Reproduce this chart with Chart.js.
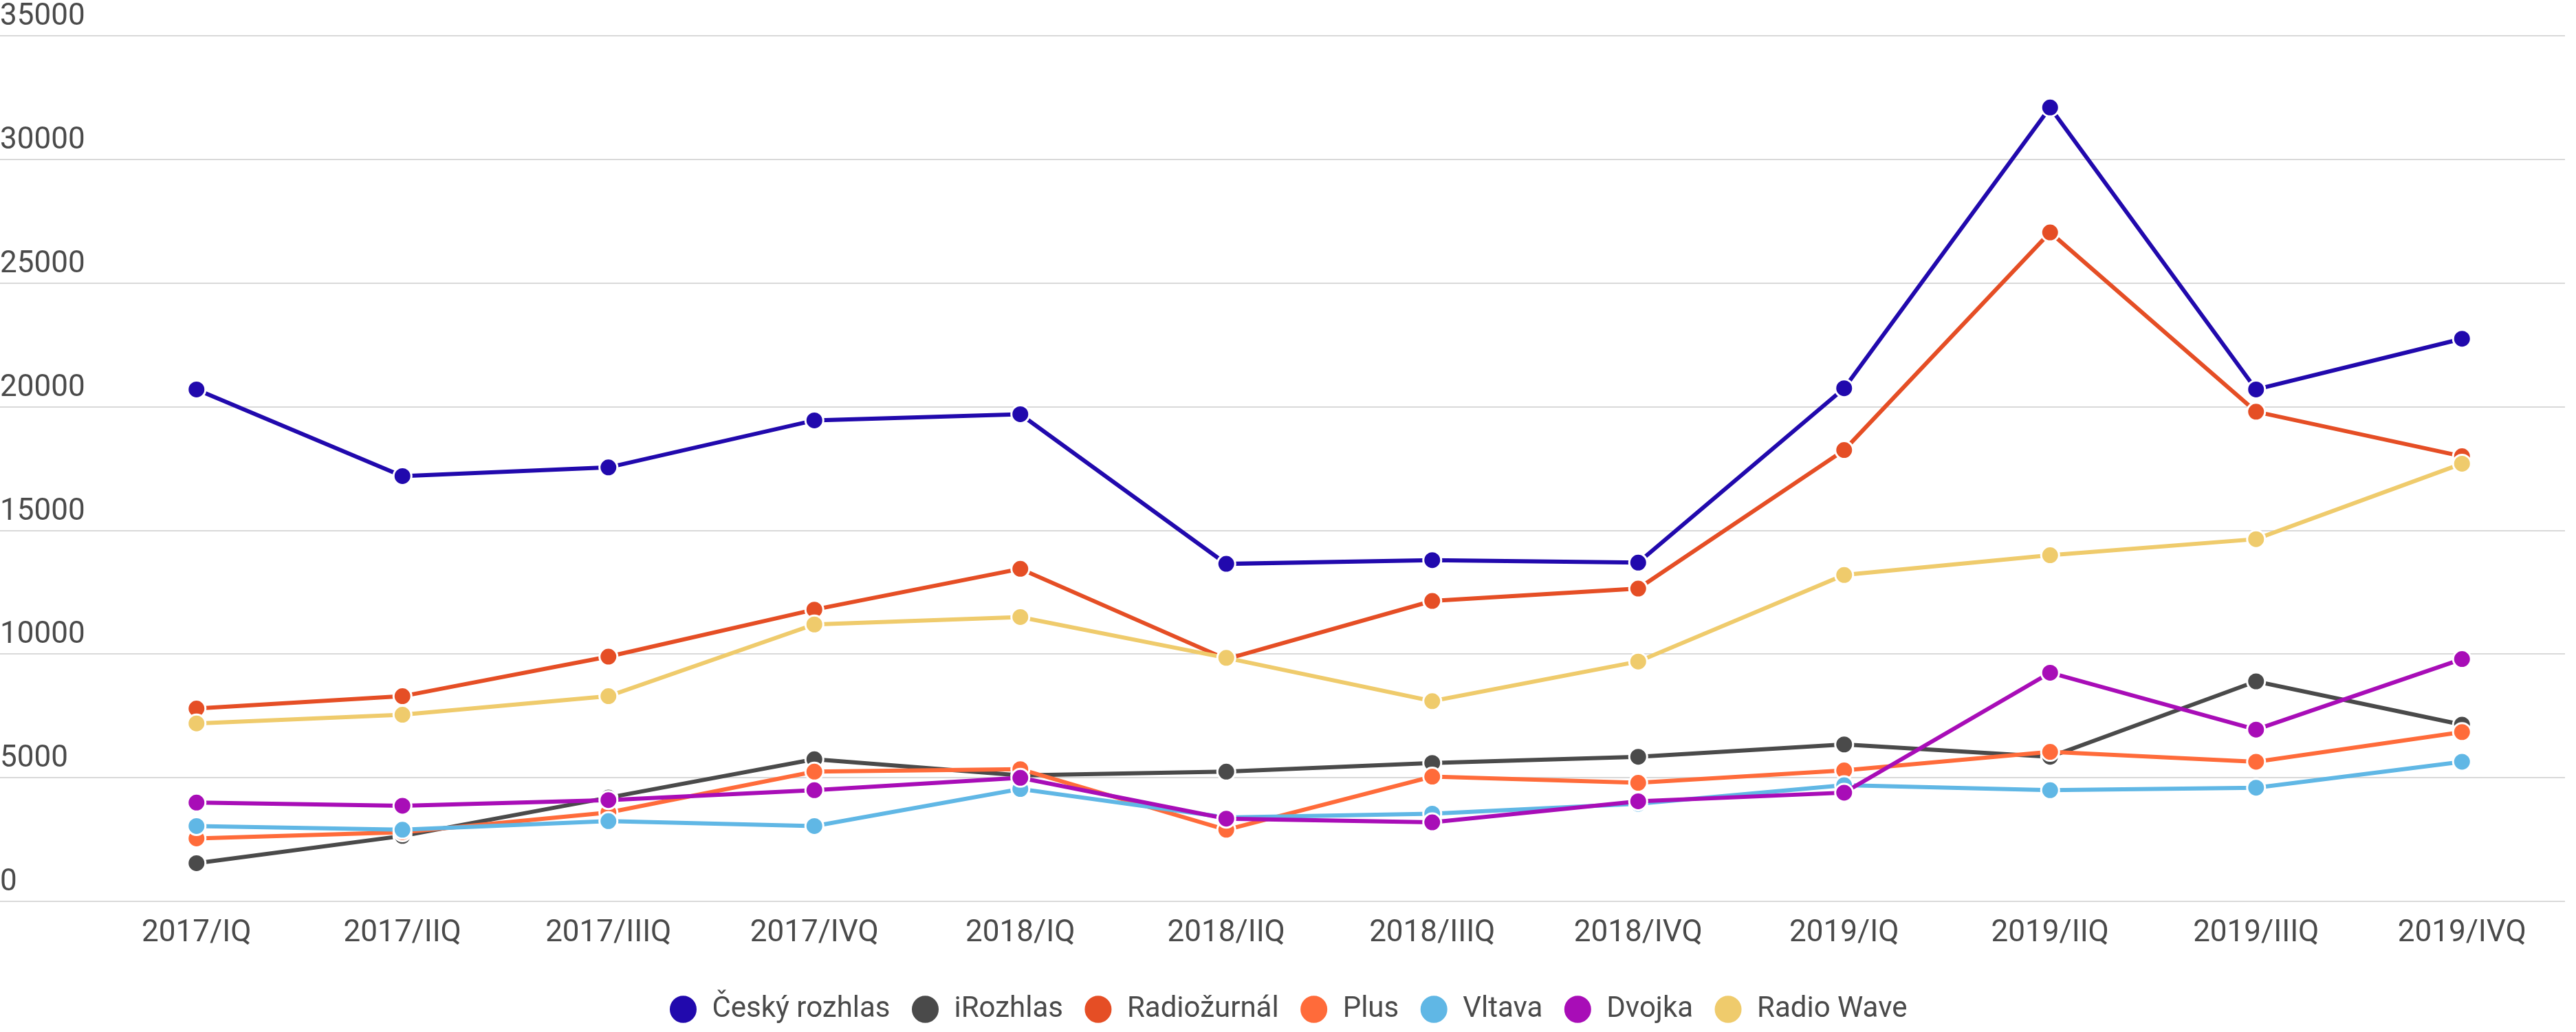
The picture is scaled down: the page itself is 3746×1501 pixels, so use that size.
<!DOCTYPE html>
<html>
<head>
<meta charset="utf-8">
<script src="https://cdn.jsdelivr.net/npm/chart.js@4/dist/chart.umd.min.js"></script>
<style>
  html, body { margin: 0; padding: 0; background: #fff; }
  #wrap { width: 3746px; height: 1501px; position: relative; }
</style>
</head>
<body>
<div id="wrap"><canvas id="radioChart"></canvas></div>
<script>
const quarters = ['2017/IQ', '2017/IIQ', '2017/IIIQ', '2017/IVQ', '2018/IQ', '2018/IIQ',
                  '2018/IIIQ', '2018/IVQ', '2019/IQ', '2019/IIQ', '2019/IIIQ', '2019/IVQ'];

const ceskyRozhlas = [20700, 17200, 17550, 19450, 19700, 13650, 13800, 13700, 20750, 32100, 20700, 22750];
const iRozhlas     = [1550, 2650, 4200, 5750, 5100, 5250, 5600, 5850, 6350, 5850, 8900, 7150];
const radiozurnal  = [7800, 8300, 9900, 11800, 13450, 9800, 12150, 12650, 18250, 27050, 19800, 18000];
const plus         = [2550, 2800, 3600, 5250, 5350, 2900, 5050, 4800, 5300, 6050, 5650, 6850];
const vltava       = [3050, 2900, 3250, 3050, 4550, 3400, 3550, 3950, 4700, 4500, 4600, 5650];
const dvojka       = [4000, 3870, 4100, 4500, 5000, 3350, 3200, 4050, 4400, 9250, 6950, 9800];
const radioWave    = [7200, 7550, 8300, 11200, 11500, 9850, 8100, 9700, 13200, 14000, 14650, 17700];

const seriesNames = ['Český rozhlas', 'iRozhlas', 'Radiožurnál', 'Plus', 'Vltava', 'Dvojka', 'Radio Wave'];
const seriesData = [ceskyRozhlas, iRozhlas, radiozurnal, plus, vltava, dvojka, radioWave];
const seriesColors = ['#2109AD', '#4A4A4A', '#E54E25', '#FF6B3A', '#60B7E5', '#A80DB7', '#EFCB6C'];

const textColor = '#4a4a4a';
const gridColor = '#d9d9d9';

// later series are drawn on top, like in the original
const datasets = seriesNames.map((name, i) => ({
    label: name,
    data: seriesData[i],
    borderColor: seriesColors[i],
    backgroundColor: seriesColors[i],
    borderWidth: 6,
    pointRadius: 13,
    pointBorderWidth: 3,
    pointBorderColor: '#ffffff',
    pointBackgroundColor: seriesColors[i],
    tension: 0,
    fill: false,
    order: seriesNames.length - i
}));

new Chart(document.getElementById('radioChart'), {
    type: 'line',
    data: {
        labels: quarters,
        datasets: datasets
    },
    options: {
        responsive: true,
        maintainAspectRatio: false,
        animation: false,
        layout: {
            padding: { top: 52, right: 0, bottom: 2, left: 0 }
        },
        scales: {
            x: {
                offset: true,
                grid: { display: false, drawTicks: false },
                border: { display: false },
                afterFit: scale => { scale.height += 13; },
                ticks: {
                    color: textColor,
                    padding: 20,
                    maxRotation: 0,
                    autoSkip: false,
                    font: { family: 'Roboto', size: 44 }
                }
            },
            y: {
                min: 0,
                max: 35000,
                border: { display: false },
                grid: {
                    color: gridColor,
                    lineWidth: 2,
                    drawTicks: true,
                    tickLength: 136
                },
                afterFit: scale => { scale.width = 136; },
                ticks: {
                    stepSize: 5000,
                    color: textColor,
                    crossAlign: 'far',
                    labelOffset: -27,
                    padding: 0,
                    font: { family: 'Roboto', size: 44 },
                    callback: value => String(value)
                }
            }
        },
        plugins: {
            legend: {
                display: true,
                position: 'bottom',
                labels: {
                    usePointStyle: true,
                    pointStyle: 'circle',
                    boxWidth: 42,
                    boxHeight: 30,
                    pointStyleWidth: 42,
                    padding: 30,
                    color: textColor,
                    font: { family: 'Roboto', size: 42 },
                    sort: (a, b) => a.datasetIndex - b.datasetIndex
                }
            },
            tooltip: { enabled: false }
        }
    }
});
</script>
</body>
</html>
